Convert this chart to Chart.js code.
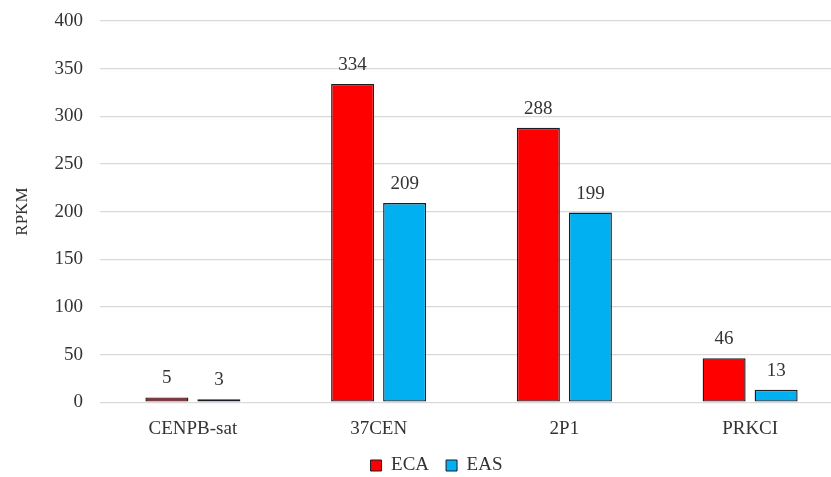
<!DOCTYPE html>
<html>
<head>
<meta charset="utf-8">
<script src="https://cdn.jsdelivr.net/npm/chart.js@4.4.1/dist/chart.umd.min.js"></script>
<style>
  html, body { margin: 0; padding: 0; background: #ffffff; overflow: hidden; }
  #wrap { width: 850px; height: 477px; }
</style>
</head>
<body>
<div id="wrap"><canvas id="chart" width="850" height="477"></canvas></div>
<script>
// Gene / repeat categories and expression values (RPKM)
const categories = ['CENPB-sat', '37CEN', '2P1', 'PRKCI'];
const ecaValues = [5, 334, 288, 46];
const easValues = [3, 209, 199, 13];
const seriesNames = ['ECA', 'EAS'];
const yTicks = [0, 50, 100, 150, 200, 250, 300, 350, 400];

const TEXT = '#333333';
const FONT = 'Liberation Serif';
const OUTLINE = '#1c1c24';

// Writes each bar's value just above it
const valueLabels = {
  id: 'valueLabels',
  afterDatasetsDraw(chart) {
    const ctx = chart.ctx;
    ctx.save();
    ctx.font = `19px "${FONT}"`;
    ctx.fillStyle = TEXT;
    ctx.textAlign = 'center';
    ctx.textBaseline = 'middle';
    chart.data.datasets.forEach((ds, i) => {
      chart.getDatasetMeta(i).data.forEach((bar, j) => {
        ctx.fillText(String(ds.data[j]), bar.x, bar.y - 19);
      });
    });
    ctx.restore();
  }
};

// Moves the legend slightly right and up from its default slot
const legendPlace = {
  id: 'legendPlace',
  afterLayout(chart) {
    const lg = chart.legend;
    if (lg) {
      lg.left += 15; lg.right += 15;
      lg.top -= 16; lg.bottom -= 16;
    }
  }
};

new Chart(document.getElementById('chart'), {
  type: 'bar',
  data: {
    labels: categories,
    datasets: [
      { label: seriesNames[0], data: ecaValues, backgroundColor: '#ff0000',
        borderColor: OUTLINE, borderWidth: 1.4, borderSkipped: false },
      { label: seriesNames[1], data: easValues, backgroundColor: '#00b0f0',
        borderColor: OUTLINE, borderWidth: 1.4, borderSkipped: false }
    ]
  },
  options: {
    responsive: false,
    animation: false,
    devicePixelRatio: 1,
    layout: { padding: { top: 21, right: 7, bottom: -24, left: 0 } },
    datasets: { bar: { categoryPercentage: 0.56, barPercentage: 0.827 } },
    scales: {
      x: {
        grid: { display: false, drawTicks: false },
        border: { display: false },
        ticks: { color: TEXT, font: { family: FONT, size: 19 }, padding: 15 }
      },
      y: {
        min: 0, max: 400,
        afterBuildTicks(scale) { scale.ticks = yTicks.map(v => ({ value: v })); },
        afterFit(scale) {
          scale.width = 100;
          scale.paddingTop = 0;
          scale.paddingBottom = 0;
        },
        grid: { color: '#d9d9d9', lineWidth: 1.3, drawTicks: false },
        border: { display: false },
        ticks: { color: TEXT, font: { family: FONT, size: 19 }, padding: 17 },
        title: { display: true, text: 'RPKM', color: TEXT,
                 font: { family: FONT, size: 17 }, padding: { top: 12, bottom: 0 } }
      }
    },
    plugins: {
      legend: {
        position: 'bottom',
        labels: { color: TEXT, font: { family: FONT, size: 19 },
                  boxWidth: 11, boxHeight: 11, padding: 17,
                  generateLabels(chart) {
                    return chart.data.datasets.map((ds, i) => ({
                      text: ds.label, fillStyle: ds.backgroundColor,
                      strokeStyle: OUTLINE, lineWidth: 1, datasetIndex: i,
                      fontColor: TEXT, hidden: false
                    }));
                  } }
      },
      tooltip: { enabled: false }
    }
  },
  plugins: [valueLabels, legendPlace]
});
</script>
</body>
</html>
